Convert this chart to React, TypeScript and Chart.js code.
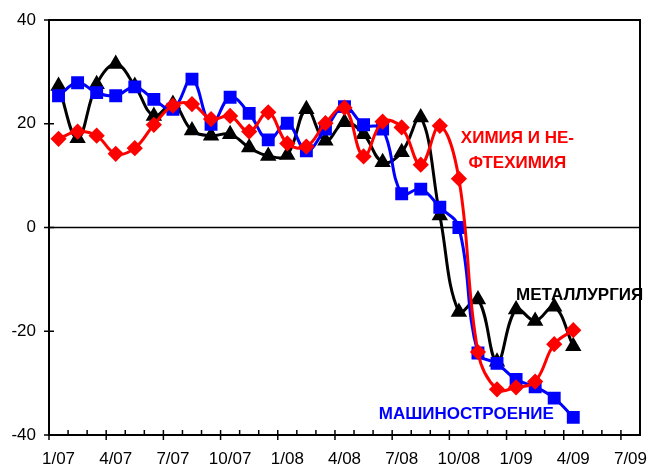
import { useEffect, useRef } from "react";
import { Chart, registerables } from "chart.js";

Chart.register(...registerables);

const months = [
  "1/07", "2/07", "3/07", "4/07", "5/07", "6/07", "7/07", "8/07", "9/07", "10/07", "11/07", "12/07",
  "1/08", "2/08", "3/08", "4/08", "5/08", "6/08", "7/08", "8/08", "9/08", "10/08", "11/08", "12/08",
  "1/09", "2/09", "3/09", "4/09", "5/09", "6/09", "7/09",
];

const metallurgy = [
  27.3, 17.2, 27.6, 31.5, 27.3, 21.5, 23.8, 18.7, 17.7, 18.0, 15.4, 13.8,
  14.0, 22.8, 16.7, 20.3, 18.0, 12.6, 14.5, 21.2, 2.3, -16.3, -13.9, -25.9,
  -15.8, -18.0, -15.3, -22.9,
];

const machineBuilding = [
  25.4, 27.9, 26.0, 25.4, 27.1, 24.7, 22.8, 28.6, 19.9, 25.1, 22.0, 16.9,
  20.1, 14.8, 19.0, 23.3, 19.8, 19.0, 6.5, 7.4, 3.9, 0.0, -24.2, -26.2,
  -29.3, -30.7, -32.9, -36.6,
];

const chemistry = [
  17.1, 18.5, 17.7, 14.2, 15.3, 19.8, 23.5, 23.8, 20.9, 21.5, 18.5, 22.2,
  16.2, 15.6, 20.1, 23.1, 13.7, 20.4, 19.3, 12.1, 19.6, 9.4, -24.0, -31.2,
  -30.8, -29.7, -22.5, -19.8,
];

const yTickValues = [-40, -20, 0, 20, 40];

const seriesLabels = ["ХИМИЯ И НЕФТЕХИМИЯ", "МАШИНОСТРОЕНИЕ", "МЕТАЛЛУРГИЯ"];

const annotationTexts = [
  { lines: ["ХИМИЯ И НЕ-", "ФТЕХИМИЯ"], color: "#ff0000", xIndex: 24.07, yValues: [17.2, 12.4], align: "center" },
  { lines: ["МЕТАЛЛУРГИЯ"], color: "#000000", xIndex: 24.0, yValues: [-13.0], align: "left" },
  { lines: ["МАШИНОСТРОЕНИЕ"], color: "#0000ff", xIndex: 16.8, yValues: [-36.1], align: "left" },
];

const FONT = "'Liberation Sans', Arial, sans-serif";

const framePlugin = {
  id: "frame",
  beforeDatasetsDraw(chart: any) {
    const { ctx, chartArea, scales } = chart;
    const y0 = scales.y.getPixelForValue(0);
    ctx.save();
    ctx.strokeStyle = "#000";
    ctx.lineWidth = 1.5;
    ctx.beginPath();
    ctx.moveTo(chartArea.left, y0);
    ctx.lineTo(chartArea.right, y0);
    ctx.stroke();
    ctx.restore();
  },
  afterDraw(chart: any) {
    const { ctx, chartArea, scales } = chart;
    const { left, right, top, bottom } = chartArea;
    ctx.save();
    ctx.strokeStyle = "#000";
    ctx.lineWidth = 2;
    ctx.strokeRect(left, top, right - left, bottom - top);
    ctx.lineWidth = 1.5;
    ctx.beginPath();
    for (const v of yTickValues) {
      const py = scales.y.getPixelForValue(v);
      ctx.moveTo(left - 5, py);
      ctx.lineTo(left + 5, py);
    }
    const step = scales.x.getPixelForValue(1) - scales.x.getPixelForValue(0);
    const start = scales.x.getPixelForValue(0) - step / 2;
    for (let i = 0; i <= months.length; i++) {
      const px = start + i * step;
      const major = i % 3 === 0;
      ctx.moveTo(px, bottom - 5);
      ctx.lineTo(px, major ? bottom + 5 : bottom);
    }
    ctx.stroke();

    ctx.font = `bold 17px ${FONT}`;
    ctx.textBaseline = "middle";
    for (const a of annotationTexts) {
      ctx.fillStyle = a.color;
      ctx.textAlign = a.align as CanvasTextAlign;
      const px = scales.x.getPixelForValue(a.xIndex);
      a.lines.forEach((line, k) => {
        ctx.fillText(line, px, scales.y.getPixelForValue(a.yValues[k]));
      });
    }
    ctx.restore();
  },
};

export default function App() {
  const ref = useRef<HTMLCanvasElement>(null);

  useEffect(() => {
    if (!ref.current) return;
    const chart = new Chart(ref.current, {
      type: "line",
      data: {
        labels: months,
        datasets: [
          {
            label: seriesLabels[0],
            data: chemistry,
            borderColor: "#ff0000",
            backgroundColor: "#ff0000",
            pointStyle: "rectRot",
            pointRadius: 6,
            pointHoverRadius: 6,
            borderWidth: 3,
            tension: 0.4,
            order: 1,
          },
          {
            label: seriesLabels[1],
            data: machineBuilding,
            borderColor: "#0000ff",
            backgroundColor: "#0000ff",
            pointStyle: "rect",
            pointRadius: 7,
            pointHoverRadius: 7,
            borderWidth: 3,
            tension: 0.4,
            order: 2,
          },
          {
            label: seriesLabels[2],
            data: metallurgy,
            borderColor: "#000000",
            backgroundColor: "#000000",
            pointStyle: "triangle",
            pointRadius: 6.5,
            pointHoverRadius: 6.5,
            borderWidth: 3,
            tension: 0.4,
            order: 3,
          },
        ],
      },
      options: {
        responsive: false,
        animation: false,
        layout: { padding: { top: 20, right: 12, left: 0, bottom: 0 } },
        plugins: {
          legend: { display: false },
          tooltip: { enabled: false },
        },
        scales: {
          x: {
            type: "category",
            offset: true,
            grid: { display: false, drawTicks: false },
            border: { display: false },
            ticks: {
              autoSkip: false,
              maxRotation: 0,
              minRotation: 0,
              padding: 14,
              color: "#000",
              font: { family: FONT, size: 17 },
              callback: (_v: any, i: number) => (i % 3 === 0 ? months[i] : ""),
            },
            afterFit: (scale: any) => {
              scale.height = 35;
              scale.paddingLeft = 0;
              scale.paddingRight = 0;
            },
          },
          y: {
            min: -40,
            max: 40,
            grid: { display: false, drawTicks: false },
            border: { display: false },
            ticks: {
              stepSize: 20,
              padding: 13,
              color: "#000",
              font: { family: FONT, size: 17 },
            },
            afterFit: (scale: any) => {
              scale.width = 49;
              scale.paddingTop = 0;
              scale.paddingBottom = 0;
            },
          },
        },
      },
      plugins: [framePlugin],
    });
    return () => chart.destroy();
  }, []);

  return (
    <div style={{ position: "fixed", left: 0, top: 0, width: 652, height: 470, background: "#fff" }}>
      <canvas ref={ref} width={652} height={470} style={{ width: 652, height: 470 }} />
    </div>
  );
}
